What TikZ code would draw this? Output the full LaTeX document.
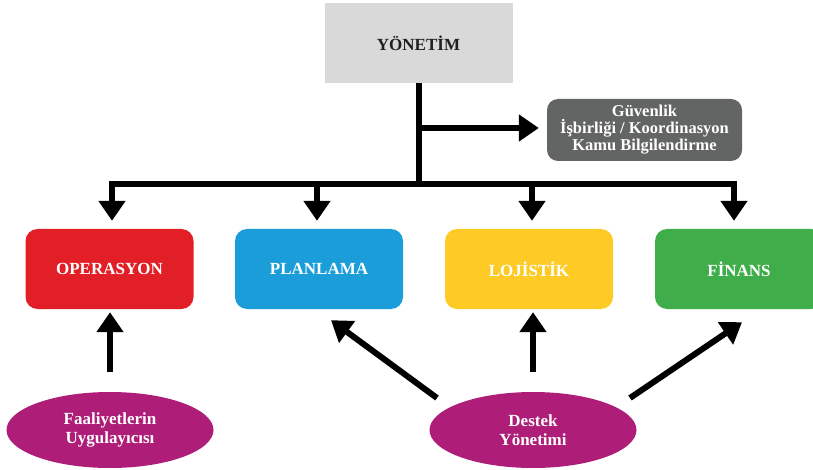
\documentclass[tikz,border=0pt]{standalone}
\usepackage{fontspec}
\setmainfont{Liberation Serif}
\usetikzlibrary{arrows.meta,shapes.geometric,calc}
\definecolor{topgray}{HTML}{D9D9D9}
\definecolor{darkgray}{HTML}{636464}
\definecolor{cred}{HTML}{E21E26}
\definecolor{cblue}{HTML}{1A9DD9}
\definecolor{cyellow}{HTML}{FECB26}
\definecolor{cgreen}{HTML}{3FAE4A}
\definecolor{cmag}{HTML}{AE1E78}
\definecolor{ctext}{HTML}{231F20}
\begin{document}
\begin{tikzpicture}[x=1pt,y=-1pt,
  unit/.style={rectangle, rounded corners=12pt, minimum width=168pt, minimum height=80pt,
    text=white, font=\fontsize{17}{19}\selectfont\bfseries, inner sep=0pt},
  oval/.style={ellipse, fill=cmag, minimum width=207pt, minimum height=76pt, inner sep=0pt,
    text=white, align=center, font=\fontsize{17}{19}\selectfont\bfseries},
  link/.style={line width=6pt, line join=miter, -{Triangle[width=26pt,length=20pt]}},
  plain/.style={line width=6pt, line join=miter}
]
\useasboundingbox (0,0) rectangle (813,470);
\clip (0,0) rectangle (813,470);

\node[rectangle, fill=topgray, minimum width=188pt, minimum height=80pt, text=ctext,
      font=\fontsize{17}{19}\selectfont\bfseries] (yon) at (418.5,43) {YÖNETİM};
\node[rectangle, rounded corners=11pt, fill=darkgray, minimum width=195pt, minimum height=62pt,
      text=white, align=center, font=\fontsize{16.5}{17}\selectfont\bfseries, inner sep=0pt]
      (guv) at (644.5,130) {Güvenlik\\İşbirliği / Koordinasyon\\Kamu Bilgilendirme};

\node[unit, fill=cred] (ops) at (109.5,269) {OPERASYON};
\node[unit, fill=cblue] (pla) at (319,269) {PLANLAMA};
\node[unit, fill=cyellow] (loj) at (529,269) {LOJİSTİK};
\node[unit, fill=cgreen] (fin) at (739,269) {FİNANS};

\node[oval] (fal) at (110,430) {Faaliyetlerin\\Uygulayıcısı};
\node[oval] (des) at (533,430) {Destek\\Yönetimi};

\coordinate (hub) at (yon.south |- 0,184);
\draw[plain] (yon.south) -- (hub);
\draw[link] ($(yon.south |- guv.west)+(0,-2)$) -- ($(guv.west)+(-8,-2)$);
\draw[link, shorten >=8pt] (hub) -| ($(ops.north)+(2.5,0)$);
\draw[link, shorten >=8pt] (hub) -| ($(pla.north)+(-2,0)$);
\draw[link, shorten >=8pt] (hub) -| ($(loj.north)+(3,0)$);
\draw[link, shorten >=8pt] (hub) -| ($(fin.north)+(-5,0)$);

\draw[link, shorten <=20pt, shorten >=3pt] (fal.north) -- (fal.north |- ops.south);
\draw[link, shorten <=20pt, shorten >=3pt] (des.north) -- (des.north |- loj.south);
\draw[link] ($(des.center)+(-96,-32)$) -- ($(pla.south)+(12,11)$);
\draw[link] ($(des.center)+(97,-32)$) -- ($(fin.south)+(3,13)$);
\end{tikzpicture}
\end{document}
